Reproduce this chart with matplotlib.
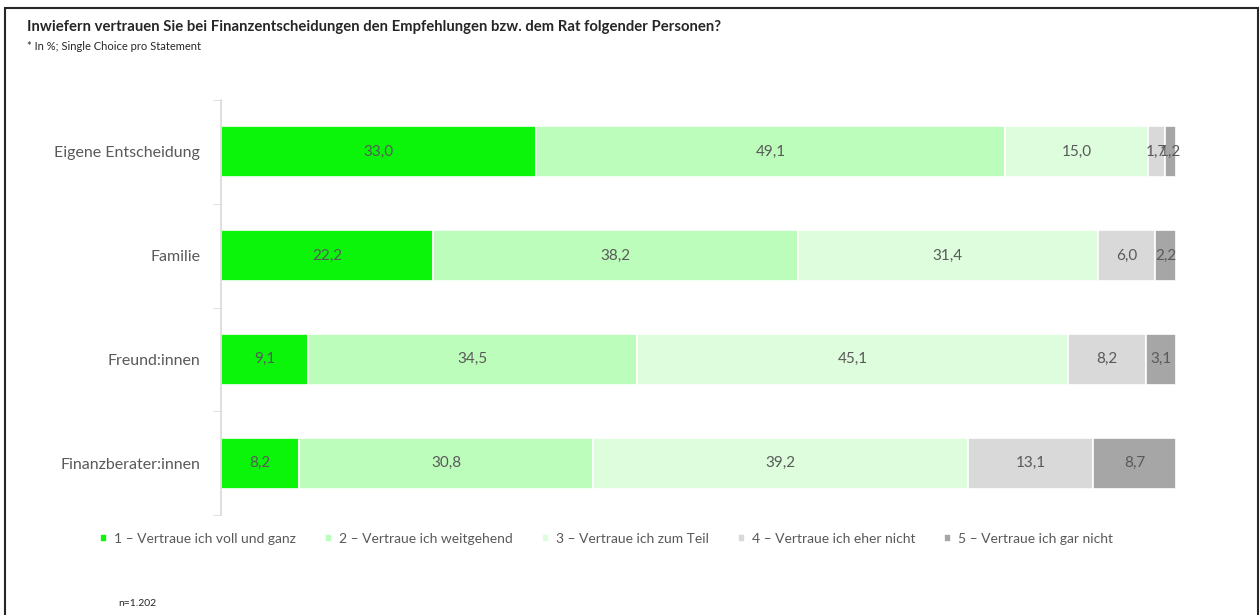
import matplotlib
matplotlib.use("Agg")
import matplotlib.pyplot as plt
import numpy as np

plt.rcParams["font.family"] = ["Lato", "DejaVu Sans"]

CATEGORIES = ["Eigene Entscheidung", "Familie", "Freund:innen", "Finanzberater:innen"]
SERIES = [
    "1 – Vertraue ich voll und ganz",
    "2 – Vertraue ich weitgehend",
    "3 – Vertraue ich zum Teil",
    "4 – Vertraue ich eher nicht",
    "5 – Vertraue ich gar nicht",
]
VALUES = [
    [33.0, 22.2, 9.1, 8.2],
    [49.1, 38.2, 34.5, 30.8],
    [15.0, 31.4, 45.1, 39.2],
    [1.7, 6.0, 8.2, 13.1],
    [1.2, 2.2, 3.1, 8.7],
]
COLORS = ["#0AF50A", "#BDFDBB", "#DDFDDC", "#D9D9D9", "#A6A6A6"]

fig = plt.figure(figsize=(12.6, 6.15), dpi=100)
ax = fig.add_axes([221 / 1260, 1 - 515 / 615, (1176 - 221) / 1260, 415 / 615])

y = np.arange(len(CATEGORIES))
left = np.zeros(len(CATEGORIES))
for name, vals, col in zip(SERIES, VALUES, COLORS):
    vals = np.array(vals)
    bars = ax.barh(y, vals, left=left, height=0.49, color=col,
                   edgecolor="white", linewidth=1.2, label=name)
    for b, v in zip(bars, vals):
        ax.text(b.get_x() + b.get_width() / 2, b.get_y() + b.get_height() / 2,
                f"{v:.1f}".replace(".", ","), ha="center", va="center",
                fontsize=11, color="#595959")
    left += vals

ax.set_xlim(0, 100)
ax.set_ylim(len(CATEGORIES) - 0.5, -0.5)
ax.set_yticks(y)
ax.set_yticklabels(CATEGORIES, fontsize=11.5, color="#595959")
ax.set_yticks(np.arange(-0.5, len(CATEGORIES)), minor=True)
ax.tick_params(axis="y", which="major", length=0, pad=15)
ax.tick_params(axis="y", which="minor", length=6, color="#D9D9D9")
ax.set_xticks([])
for s in ["top", "right", "bottom"]:
    ax.spines[s].set_visible(False)
ax.spines["left"].set_color("#D9D9D9")
ax.spines["left"].set_linewidth(1.2)

fig.legend(loc="center left", bbox_to_anchor=(100 / 1260, 1 - 539 / 615), ncol=5,
           frameon=False, fontsize=10, handlelength=0.5, handleheight=0.5,
           columnspacing=2.1, handletextpad=0.5, labelcolor="#595959",
           borderaxespad=0, borderpad=0)

fig.text(27 / 1260, 1 - 27 / 615, "Inwiefern vertrauen Sie bei Finanzentscheidungen den "
         "Empfehlungen bzw. dem Rat folgender Personen?", fontsize=10.7,
         fontweight="bold", color="#262626", va="center")
fig.text(27 / 1260, 1 - 47 / 615, "* In %; Single Choice pro Statement",
         fontsize=8, color="#262626", va="center")
fig.text(118 / 1260, 1 - 603 / 615, "n=1.202", fontsize=7.5, color="#262626", va="center")

# frame around the figure
fig.patches.append(plt.Rectangle((5 / 1260, -0.01), (1258 - 5) / 1260, 1 - 8 / 615 + 0.01,
                                 transform=fig.transFigure, fill=False,
                                 edgecolor="#262626", linewidth=1.5))

fig.savefig("out.png", dpi=100)
